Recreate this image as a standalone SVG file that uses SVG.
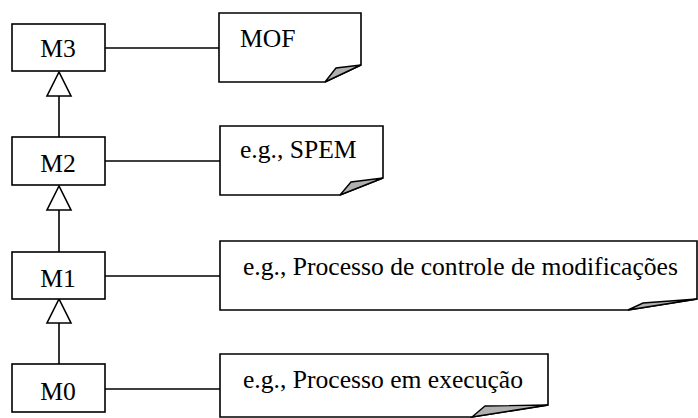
<svg xmlns="http://www.w3.org/2000/svg" width="698" height="418" viewBox="0 0 698 418">
<defs>
<style>
.box{fill:#fff;stroke:#000;stroke-width:1.6}
.note{fill:#fff;stroke:#000;stroke-width:1.6;stroke-linejoin:miter}
.flap{fill:#b0b0b0;stroke:#000;stroke-width:1.4}
.t{font-family:"Liberation Serif","Times New Roman",serif;font-size:25.6px;fill:#000}
.c{fill:none;stroke:#000;stroke-width:1.6}
.gen{fill:#fff;stroke:#000;stroke-width:1.6}
</style>
</defs>
<rect width="698" height="418" fill="#fff"/>
<g id="connectors">
<line class="c" x1="105" y1="48" x2="219" y2="48"/>
<line class="c" x1="105" y1="161" x2="220" y2="161"/>
<line class="c" x1="105" y1="276" x2="220" y2="276"/>
<line class="c" x1="105" y1="389" x2="220" y2="389"/>
<line class="c" x1="59" y1="96" x2="59" y2="137"/>
<polygon class="gen" points="59,72 47,96 71,96"/>
<line class="c" x1="59" y1="210" x2="59" y2="252"/>
<polygon class="gen" points="59,186 47,210 71,210"/>
<line class="c" x1="59" y1="323" x2="59" y2="364"/>
<polygon class="gen" points="59,299 47,323 71,323"/>
</g>
<g id="M3">
<rect class="box" x="12" y="24" width="93" height="47"/>
<text class="t" x="58" y="57" text-anchor="middle">M3</text>
</g>
<g id="M2">
<rect class="box" x="12" y="137" width="93" height="48"/>
<text class="t" x="58" y="172" text-anchor="middle">M2</text>
</g>
<g id="M1">
<rect class="box" x="12" y="252" width="93" height="47"/>
<text class="t" x="58" y="287" text-anchor="middle">M1</text>
</g>
<g id="M0">
<rect class="box" x="12" y="364" width="93" height="48"/>
<text class="t" x="58" y="400" text-anchor="middle">M0</text>
</g>
<g id="note-MOF">
<path class="note" d="M219,13 H361 V65 L325,82 H219 Z"/>
<path class="flap" d="M325,82 L336,68 L361,65 Z"/>
<text class="t" x="240" y="47">MOF</text>
</g>
<g id="note-SPEM">
<path class="note" d="M220,126 H383 V178 L340,195 H220 Z"/>
<path class="flap" d="M340,195 L351,182 L383,178 Z"/>
<text class="t" x="240" y="158">e.g., SPEM</text>
</g>
<g id="note-M1">
<path class="note" d="M220,241 H697 V299 L628,310 H220 Z"/>
<path class="flap" d="M628,310 L643,303 L697,299 Z"/>
<text class="t" x="243" y="275">e.g., Processo de controle de modificações</text>
</g>
<g id="note-M0">
<path class="note" d="M220,354 H548 V405 L472,417 H220 Z"/>
<path class="flap" d="M472,417 L485,406 L548,405 Z"/>
<text class="t" x="243" y="388">e.g., Processo em execução</text>
</g>
</svg>
